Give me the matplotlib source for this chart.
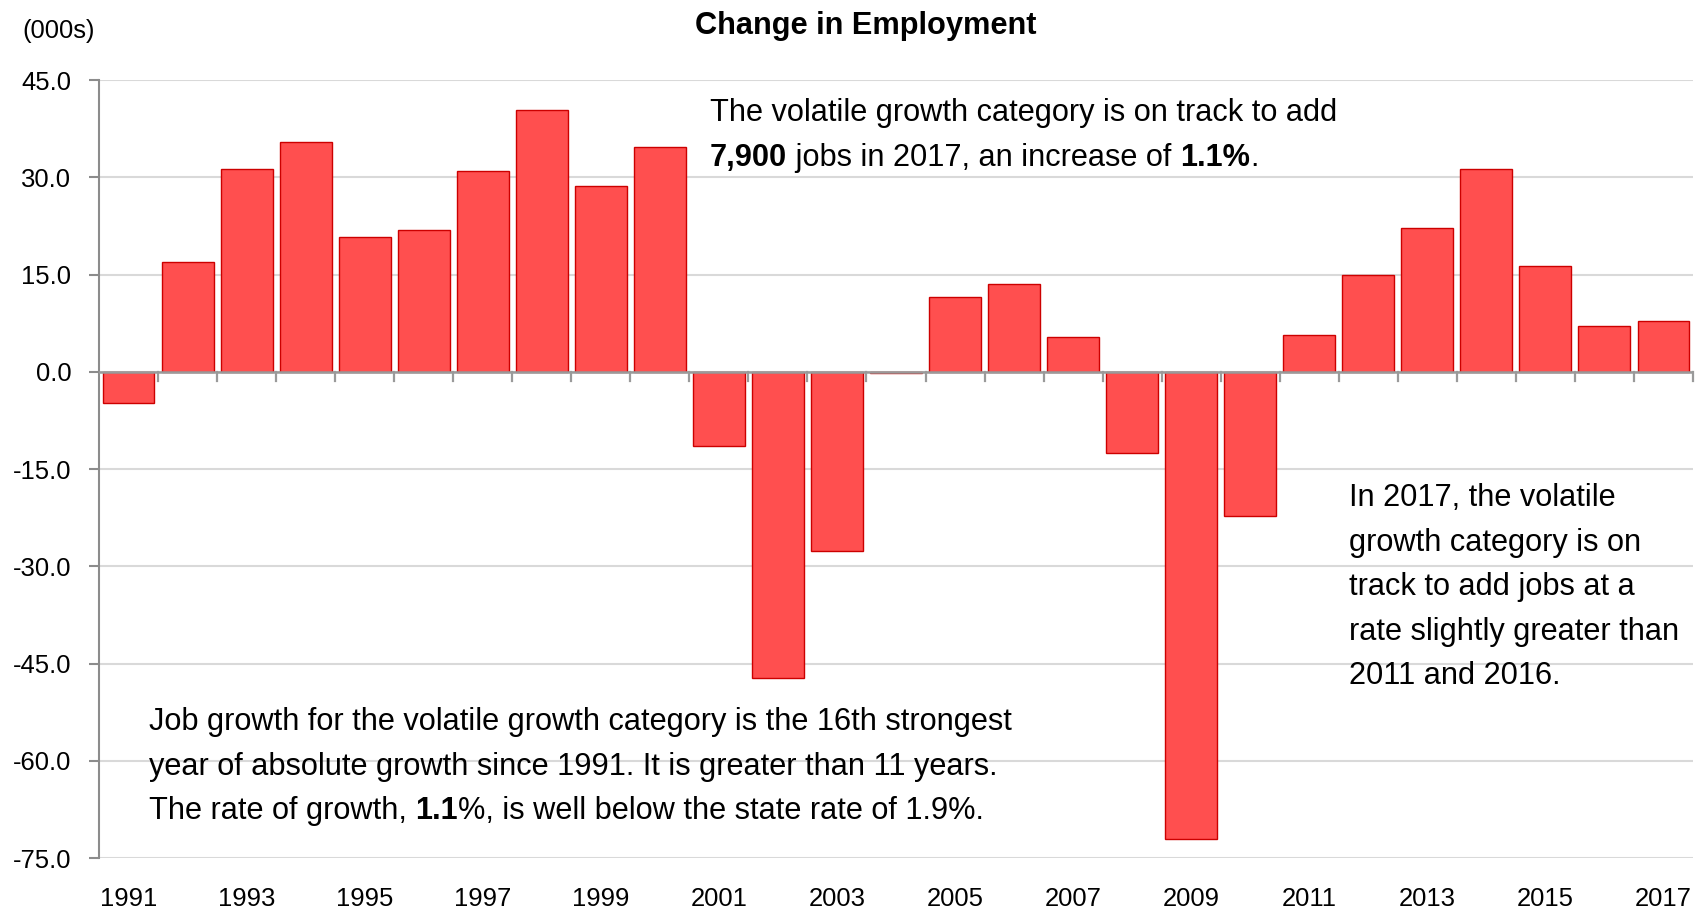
import matplotlib
matplotlib.use("Agg")
import matplotlib.pyplot as plt
from matplotlib.ticker import FixedLocator, FuncFormatter
from matplotlib import font_manager

# ---- data ----
years = list(range(1991, 2018))
change = [-4.8, 17.0, 31.2, 35.5, 20.8, 21.8, 30.9, 40.3, 28.6, 34.6,
          -11.4, -47.2, -27.6, -0.2, 11.6, 13.6, 5.3, -12.6, -72.0, -22.2,
          5.7, 14.9, 22.2, 31.2, 16.3, 7.0, 7.9]
y_ticks = [45.0, 30.0, 15.0, 0.0, -15.0, -30.0, -45.0, -60.0, -75.0]
title = "Change in Employment"
unit_label = "(000s)"

note_top = [
    [("The volatile growth category is on track to add", False)],
    [("7,900", True), (" jobs in 2017, an increase of ", False), ("1.1%", True), (".", False)],
]
note_bottom = [
    [("Job growth for the volatile growth category is the 16th strongest", False)],
    [("year of absolute growth since 1991. It is greater than 11 years.", False)],
    [("The rate of growth, ", False), ("1.1", True), ("%, is well below the state rate of 1.9%.", False)],
]
note_right = [
    [("In 2017, the volatile", False)],
    [("growth category is on", False)],
    [("track to add jobs at a", False)],
    [("rate slightly greater than", False)],
    [("2011 and 2016.", False)],
]

# ---- fonts ----
avail = {f.name for f in font_manager.fontManager.ttflist}
FONT = "Liberation Sans Narrow" if "Liberation Sans Narrow" in avail else "Liberation Sans"
scale = 1.0 if FONT == "Liberation Sans Narrow" else 0.82
plt.rcParams['font.family'] = [FONT, 'DejaVu Sans']

W, H = 1705, 913
fig = plt.figure(figsize=(W / 100, H / 100), dpi=100)
ax = fig.add_axes([99 / W, 1 - 858 / H, (1693 - 99) / W, (858 - 80) / H])

x = list(range(len(years)))
ax.bar(x, change, width=0.88, color="#FF4F4F", edgecolor="#CC0000", linewidth=1.0, zorder=3)

ax.set_xlim(-0.5, len(years) - 0.5)
ax.set_ylim(-75, 45)

# gridlines
ax.yaxis.set_major_locator(FixedLocator(y_ticks))
ax.yaxis.set_major_formatter(FuncFormatter(lambda v, p: f"{v:.1f}"))
ax.grid(axis="y", color="#D9D9D9", linewidth=1.5, zorder=0)
ax.axhline(0, color="#9A9A9A", linewidth=1.8, zorder=4)

for s in ["top", "right", "bottom"]:
    ax.spines[s].set_visible(False)
ax.spines["left"].set_color("#8C8C8C")
ax.spines["left"].set_linewidth(1.5)

ax.tick_params(axis="y", direction="out", length=7, width=1.5, color="#8C8C8C",
               labelsize=22.5 * scale, pad=13, labelcolor="black")

# x labels: every other year at bar centers
ax.set_xticks(x[::2])
ax.set_xticklabels([str(y) for y in years[::2]])
ax.tick_params(axis="x", length=0, labelsize=22.5 * scale, pad=21)

# tick marks at slot boundaries on the zero line
bounds = [i + 0.5 for i in range(len(years) - 1)] + [len(years) - 0.5]
for b in bounds:
    ax.plot([b, b], [0, -1.5], color="#9A9A9A", linewidth=1.6, zorder=4, clip_on=False)

# title and unit
fig.text(866 / W, 1 - 26 / H, title, fontsize=27 * scale, fontweight="bold",
         ha="center", va="center")
fig.text(22 / W, 1 - 31 / H, unit_label, fontsize=22.5 * scale, ha="left", va="center")

renderer = fig.canvas.get_renderer()


def rich_block(x0, y0, lines, size, spacing):
    for i, pieces in enumerate(lines):
        cur = x0
        yy = y0 + i * spacing
        for txt, bold in pieces:
            t = fig.text(cur / W, 1 - yy / H, txt, fontsize=size,
                         fontweight="bold" if bold else "normal",
                         ha="left", va="center")
            bb = t.get_window_extent(renderer)
            cur += bb.width


rich_block(710, 113, note_top, 27 * scale, 44.6)
rich_block(149, 722, note_bottom, 27 * scale, 44.6)
rich_block(1349, 498, note_right, 27 * scale, 44.6)

fig.savefig("out.png", dpi=100)
